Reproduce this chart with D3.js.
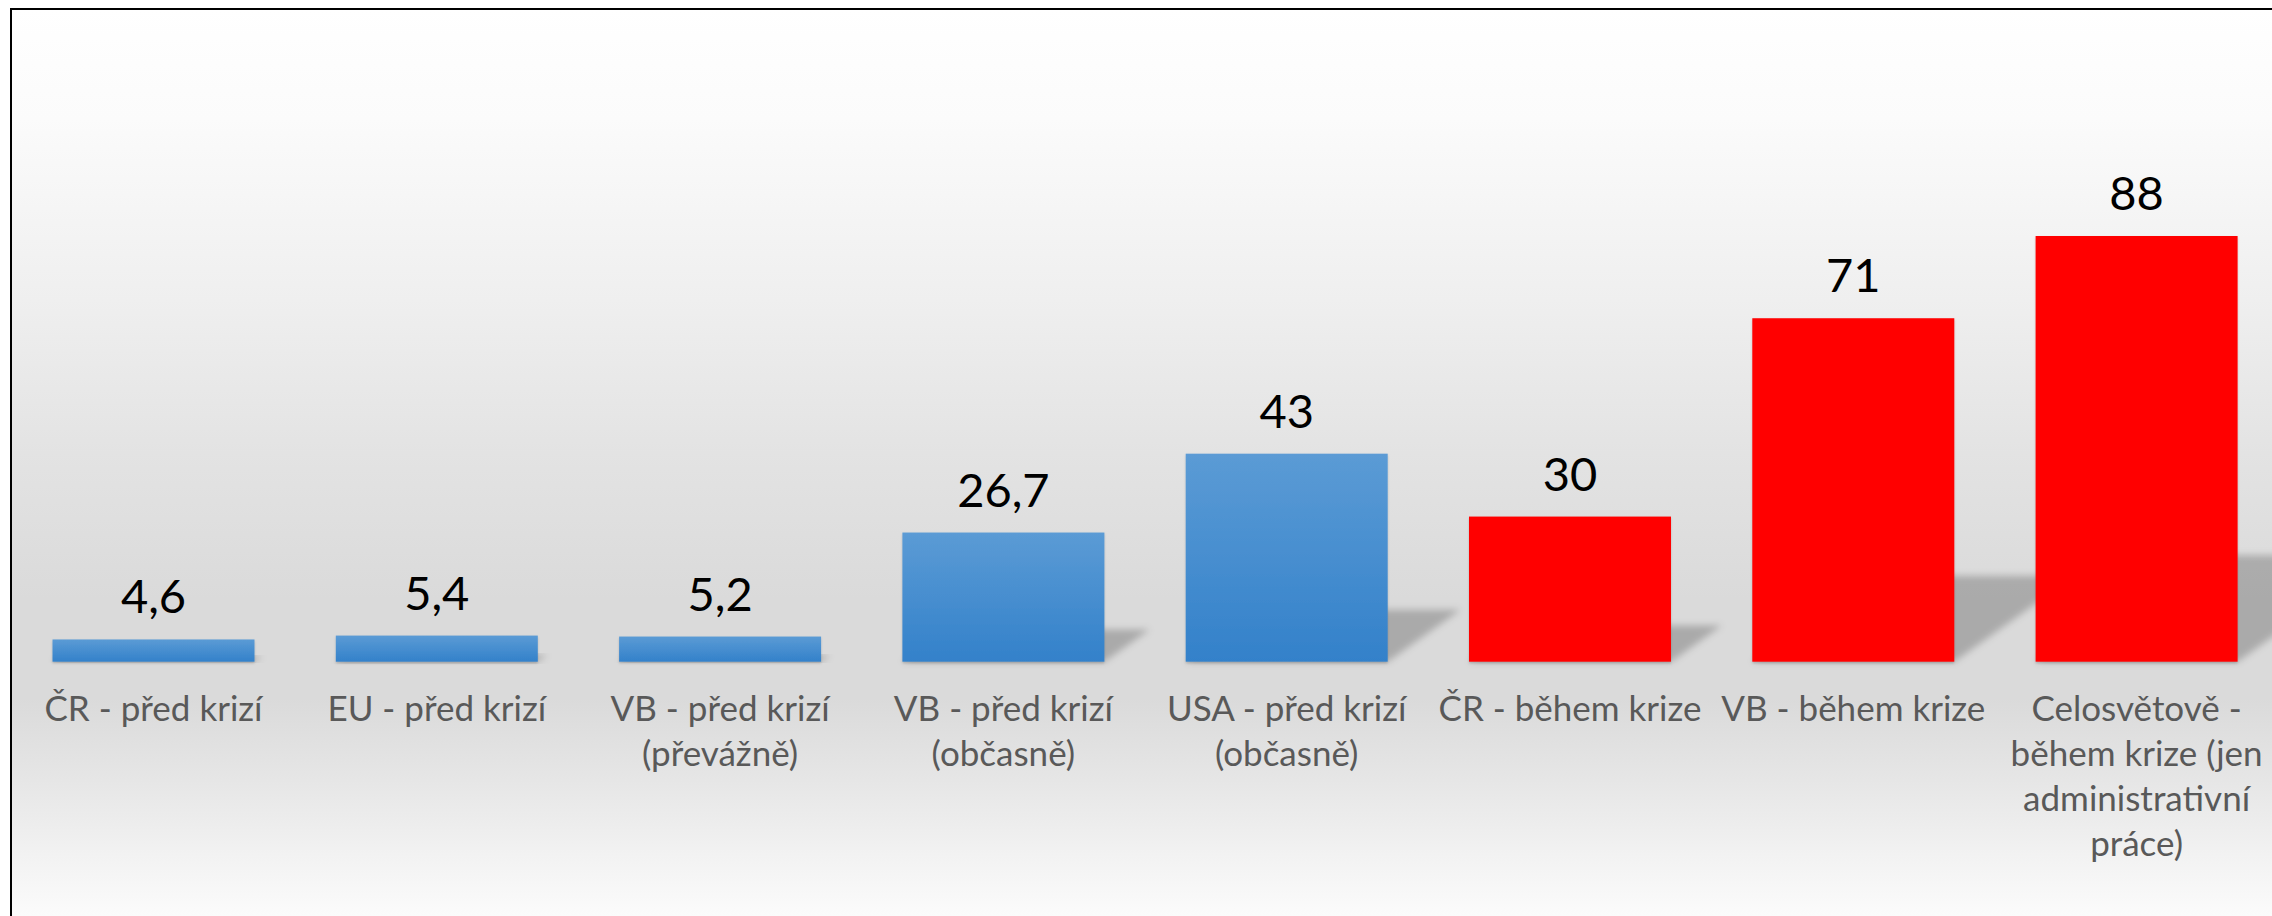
<!DOCTYPE html>
<html><head><meta charset="utf-8">
<script src="https://cdn.jsdelivr.net/npm/d3@7"></script>
<style>html,body{margin:0;padding:0;background:#fff;overflow:hidden} svg{display:block}</style>
</head><body>
<svg id="chart" width="2272" height="916"></svg>
<script>
// ---- data ----
const categories = [
  "ČR - před krizí",
  "EU - před krizí",
  "VB - před krizí\n(převážně)",
  "VB - před krizí\n(občasně)",
  "USA - před krizí\n(občasně)",
  "ČR - během krize",
  "VB - během krize",
  "Celosvětově -\nběhem krize (jen\nadministrativní\npráce)"
];
const values = [4.6, 5.4, 5.2, 26.7, 43, 30, 71, 88];
const valueLabels = ["4,6", "5,4", "5,2", "26,7", "43", "30", "71", "88"];
const periods = ["před", "před", "před", "před", "před", "během", "během", "během"];

const data = categories.map((c, i) => ({cat: c, value: values[i], label: valueLabels[i], period: periods[i]}));

// ---- layout ----
const W = 2272, H = 916;
const svg = d3.select("#chart");
const defs = svg.append("defs");

const bg = defs.append("linearGradient").attr("id", "bgGrad")
  .attr("gradientUnits", "userSpaceOnUse").attr("x1", 0).attr("x2", 0).attr("y1", 9).attr("y2", 916);
[[0, "#ffffff"], [0.12, "#fbfbfb"], [0.32, "#efefef"], [0.49, "#e3e3e3"], [0.65, "#dadada"],
 [0.76, "#dadada"], [0.85, "#e6e6e6"], [0.94, "#f3f3f3"], [1, "#fbfbfb"]]
  .forEach(([o, c]) => bg.append("stop").attr("offset", o).attr("stop-color", c));

const blue = defs.append("linearGradient").attr("id", "blueGrad").attr("x1", 0).attr("x2", 0).attr("y1", 0).attr("y2", 1);
blue.append("stop").attr("offset", 0).attr("stop-color", "#5b9bd5");
blue.append("stop").attr("offset", 1).attr("stop-color", "#3381ca");

const blur = defs.append("filter").attr("id", "shBlur").attr("x", "-20%").attr("y", "-20%").attr("width", "140%").attr("height", "140%");
blur.append("feGaussianBlur").attr("stdDeviation", 3.5);

const under = defs.append("filter").attr("id", "under").attr("x", "-10%").attr("y", "-10%").attr("width", "120%").attr("height", "130%");
under.append("feDropShadow").attr("dx", 0).attr("dy", 1.5).attr("stdDeviation", 1.2).attr("flood-color", "#000").attr("flood-opacity", 0.18);

svg.append("rect").attr("width", W).attr("height", H).attr("fill", "#fff");
svg.append("rect").attr("x", 11).attr("y", 9).attr("width", 2400).attr("height", 1200)
  .attr("fill", "url(#bgGrad)").attr("stroke", "#000").attr("stroke-width", 2);

const x = d3.scaleBand().domain(categories).range([11.85, 2278.25]).paddingInner(0.287).paddingOuter(0.1435);
const y = d3.scaleLinear().domain([0, 100]).range([661.7, 177.95]);
const colorOf = d3.scaleOrdinal().domain(["před", "během"]).range(["url(#blueGrad)", "#ff0000"]);

// perspective shadows
svg.append("g").selectAll("polygon").data(data).join("polygon")
  .attr("points", d => {
    const x0 = x(d.cat), x1 = x0 + x.bandwidth(), b = y(0);
    const dy = (y(0) - y(d.value)) * 0.25, dx = dy * 1.4;
    return [[x0, b], [x1, b], [x1 + dx, b - dy], [x0 + dx, b - dy]].map(p => p.join(",")).join(" ");
  })
  .attr("fill", "#000").attr("fill-opacity", 0.22).attr("filter", "url(#shBlur)");

// bars
svg.append("g").selectAll("rect").data(data).join("rect")
  .attr("x", d => x(d.cat)).attr("width", x.bandwidth())
  .attr("y", d => y(d.value)).attr("height", d => y(0) - y(d.value))
  .attr("fill", d => colorOf(d.period)).attr("filter", "url(#under)");

// value labels
svg.append("g").selectAll("text").data(data).join("text")
  .attr("x", d => x(d.cat) + x.bandwidth() / 2).attr("y", d => y(d.value) - 26)
  .attr("text-anchor", "middle").attr("font-family", "Lato, 'Open Sans', sans-serif")
  .attr("font-size", 47).attr("fill", "#000").text(d => d.label);

// category labels
const cl = svg.append("g").selectAll("text").data(data).join("text")
  .attr("x", d => x(d.cat) + x.bandwidth() / 2).attr("y", 721)
  .attr("text-anchor", "middle").attr("font-family", "Lato, 'Open Sans', sans-serif")
  .attr("font-size", 35).attr("fill", "#595959");
cl.each(function(d) {
  const t = d3.select(this);
  d.cat.split("\n").forEach((line, i) => {
    t.append("tspan").attr("x", x(d.cat) + x.bandwidth() / 2).attr("dy", i === 0 ? 0 : 45).text(line);
  });
});
</script>
</body></html>
